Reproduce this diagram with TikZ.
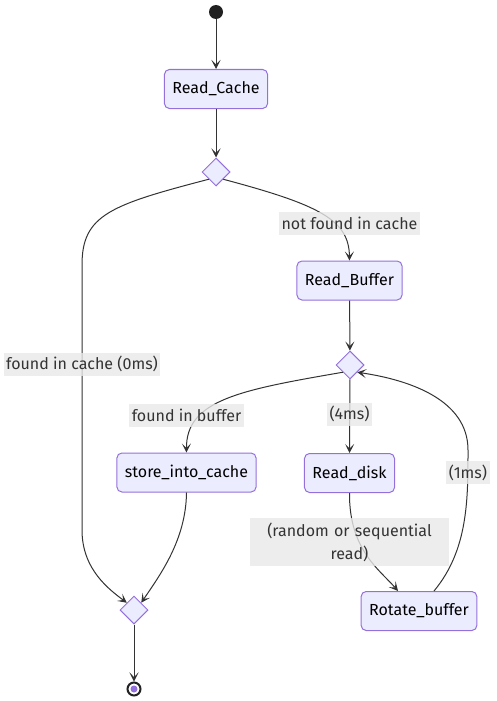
\documentclass[tikz,border=0pt]{standalone}
\usepackage{fontspec}
\setmainfont{Fira Sans}
\usetikzlibrary{shapes.geometric,arrows.meta}
\definecolor{nodefill}{HTML}{ECECFF}
\definecolor{nodeline}{HTML}{9370DB}
\definecolor{edgeline}{HTML}{333333}
\definecolor{labelbg}{HTML}{E8E8E8}
\begin{document}
\begin{tikzpicture}[x=1pt,y=-1pt,>={Stealth[length=9pt,width=9pt,inset=4.5pt]}]
  \tikzstyle{state}=[draw=nodeline, line width=1pt, rounded corners=5pt, fill=nodefill, minimum height=39pt, inner xsep=8pt, text=black, font=\fontsize{16}{19}\selectfont]
  \tikzstyle{choice}=[draw=nodeline, line width=1pt, fill=nodefill, diamond, aspect=1, minimum width=28pt, minimum height=28pt, inner sep=0pt]
  \tikzstyle{elabel}=[fill=labelbg, fill opacity=0.8, text opacity=1, text=edgeline, inner xsep=2.5pt, inner ysep=0pt, minimum height=23pt, font=\fontsize{16}{23}\selectfont]
  \tikzstyle{arrow}=[->, draw=edgeline, line width=1pt]

  \useasboundingbox (0,0) rectangle (497,701);

  \node[circle, fill=black!87, inner sep=0pt, minimum size=14pt] (start) at (216,12) {};
  \node[state] (rc) at (216,89) {Read\_Cache};
  \node[choice] (d1) at (216,172) {};
  \node[state] (rb) at (349.5,280.5) {Read\_Buffer};
  \node[choice] (d2) at (350,365) {};
  \node[state] (sic) at (186.5,472.5) {store\_into\_cache};
  \node[state] (rd) at (349.5,473) {Read\_disk};
  \node[state] (rot) at (419,611) {Rotate\_buffer};
  \node[choice] (d3) at (134,610) {};
  \node[circle, draw=black!87, line width=2pt, fill=white, inner sep=0pt, minimum size=13pt] (stop) at (134,689) {};
  \node[circle, fill=nodeline, inner sep=0pt, minimum size=7pt] (stopdot) at (stop) {};

  \draw[arrow] (start) -- (rc);
  \draw[arrow] (rc) -- (d1);
  \draw[arrow] (d1.south east) .. controls (320,205) and (349,220) .. (rb.north);
  \draw[arrow] (d1.south west) .. controls (110,205) and (82,215) .. (82,265) -- (82,530) .. controls (82,570) and (110,590) .. (d3.north west);
  \draw[arrow] (rb) -- (d2);
  \draw[arrow] (d2.south west) .. controls (240,390) and (186,400) .. (sic.north);
  \draw[arrow] (d2) -- (rd);
  \draw[arrow] (rd.south) .. controls (349,550) and (380,570) .. ([xshift=-21pt]rot.north);
  \draw[arrow] ([xshift=15pt]rot.north) .. controls (468,550) and (468,500) .. (468,450) .. controls (468,400) and (410,380) .. (d2.south east);
  \draw[arrow] (sic.south) .. controls (186,540) and (160,575) .. (d3.north east);
  \draw[arrow] (d3) -- (stop);

  \node[elabel] (l1) at (349.5,223.5) {not found in cache};
  \node[elabel] (l2) at (82,364) {found in cache (0ms)};
  \node[elabel] (l3) at (186.5,415) {found in buffer};
  \node[elabel] (l4) at (349.5,414) {(4ms)};
  \node[elabel] (l5) at (468,472.5) {(1ms)};
  \node[elabel, text width=194pt, align=center, minimum height=48pt] (l6) at (349.5,542) {(random or sequential\\read)};
\end{tikzpicture}
\end{document}
